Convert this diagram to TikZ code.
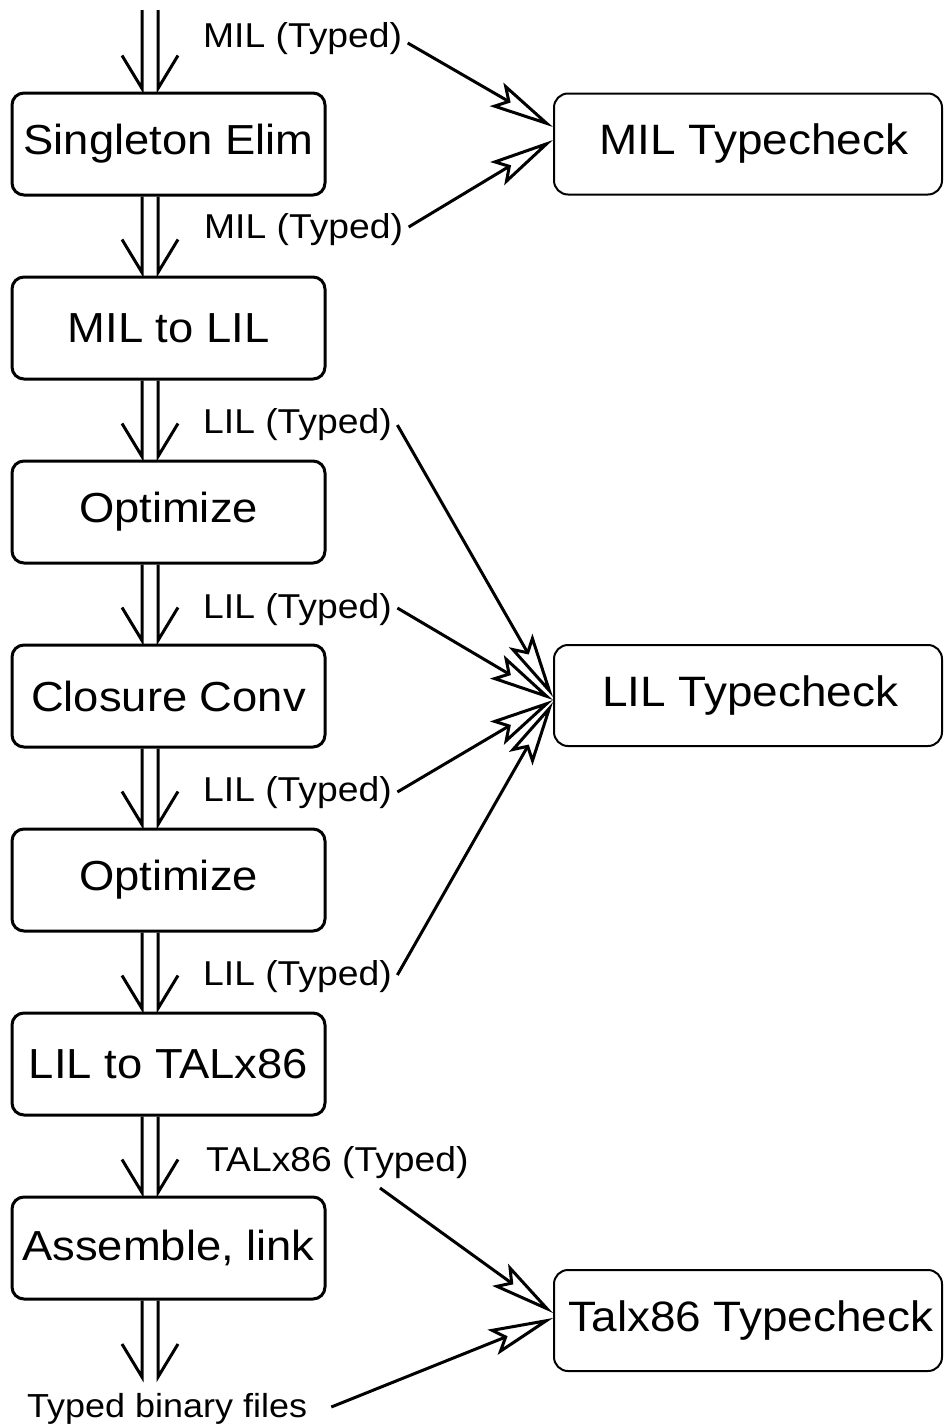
\documentclass[tikz,border=0pt]{standalone}
\usepackage{fontspec}
\newfontfamily\lf{Liberation Sans}[FakeStretch=1.08]
\usetikzlibrary{arrows.meta,calc}
\newcommand\dblarr[2]{%
  \draw[shaft] ([xshift=131.5pt]#1) -- ([xshift=131.5pt,yshift=3pt]#2) -- ++(-20pt,33pt);
  \draw[shaft] ([xshift=147.5pt]#1) -- ([xshift=147.5pt,yshift=3pt]#2) -- ++(20pt,33pt);}
\begin{document}
\begin{tikzpicture}[x=1pt,y=-1pt,
  proc/.style={draw,line width=3pt,rounded corners=12pt,minimum width=313pt,minimum height=102pt,inner sep=0pt,font=\lf\fontsize{42}{48}\selectfont},
  check/.style={draw,line width=2pt,rounded corners=14pt,minimum width=388pt,minimum height=101pt,inner sep=0pt,font=\lf\fontsize{42.5}{48}\selectfont},
  lab/.style={inner sep=0pt,anchor=base west,font=\lf\fontsize{34.5}{40}\selectfont},
  tarrow/.style={line width=3pt,-{Stealth[open,length=65pt,width=27pt,inset=12pt]}},
  shaft/.style={line width=3pt}]
\useasboundingbox (0,0) rectangle (945,1427);
\node[proc] (b1) at (168.5,144) {Singleton Elim};
\node[proc] (b2) at (168.5,328) {MIL to LIL};
\node[proc] (b3) at (168.5,512) {Optimize};
\node[proc] (b4) at (168.5,696) {Closure Conv};
\node[proc] (b5) at (168.5,880) {Optimize};
\node[proc] (b6) at (168.5,1064) {LIL to TALx86};
\node[proc] (b7) at (168.5,1248) {Assemble, link};
\node[check] (mc) at (748,144) {\hspace*{12pt}MIL Typecheck};
\node[check] (lc) at (748,695.5) {\hspace*{4pt}LIL Typecheck};
\node[check] (tc) at (748,1320.5) {\hspace*{6pt}Talx86 Typecheck};
\node[lab] (l1) at (203,47) {MIL (Typed)};
\node[lab] (l2) at (204,238) {MIL (Typed)};
\node[lab] (l3) at (203,433) {LIL (Typed)};
\node[lab] (l4) at (203,618) {LIL (Typed)};
\node[lab] (l5) at (203,801) {LIL (Typed)};
\node[lab] (l6) at (203,985) {LIL (Typed)};
\node[lab] (l7) at (206,1171) {TALx86 (Typed)};
\node[lab,font=\lf\fontsize{33.3}{40}\selectfont] (l8) at (27,1417) {Typed binary files};
\coordinate (in) at (10.5,10);
\coordinate (out) at (10.5,1380);
\dblarr{in}{b1.north west}
\dblarr{b1.south west}{b2.north west}
\dblarr{b2.south west}{b3.north west}
\dblarr{b3.south west}{b4.north west}
\dblarr{b4.south west}{b5.north west}
\dblarr{b5.south west}{b6.north west}
\dblarr{b6.south west}{b7.north west}
\dblarr{b7.south west}{out}
\draw[tarrow] ([shift={(5.5pt,4pt)}]l1.base east) -- ([yshift=17pt]mc.west);
\draw[tarrow] ([shift={(5.5pt,11pt)}]l2.base east) -- ([yshift=4pt]mc.west);
\draw[tarrow] ([shift={(5.5pt,8pt)}]l3.base east) -- ([yshift=-1.5pt]lc.west);
\draw[tarrow] ([shift={(5.5pt,10pt)}]l4.base east) -- ([yshift=-4.5pt]lc.west);
\draw[tarrow] ([shift={(5.5pt,9pt)}]l5.base east) -- ([yshift=-4.5pt]lc.west);
\draw[tarrow] ([shift={(5.5pt,10pt)}]l6.base east) -- ([yshift=-6.5pt]lc.west);
\draw[tarrow] ([shift={(174pt,-17pt)}]l7.base west) -- ([yshift=7.5pt]tc.west);
\draw[tarrow] ([shift={(24pt,10pt)}]l8.base east) -- ([yshift=2.5pt]tc.west);
\end{tikzpicture}
\end{document}
